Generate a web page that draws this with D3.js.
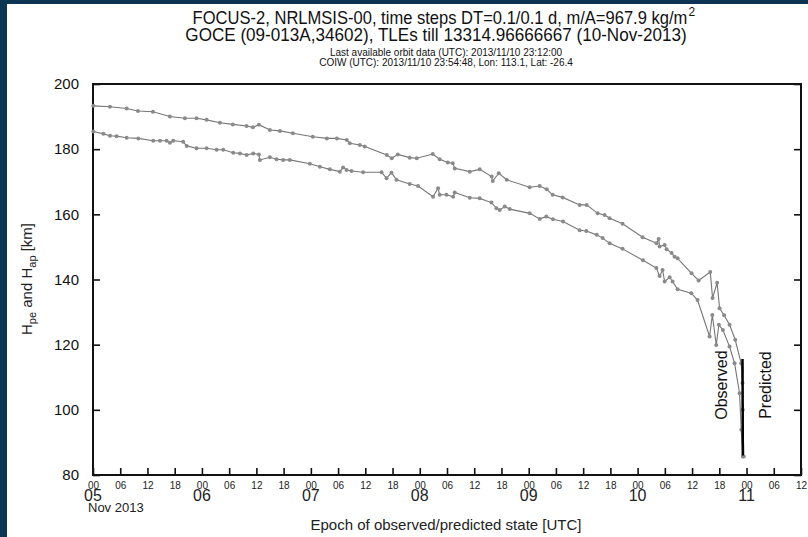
<!DOCTYPE html>
<html lang="en">
<head>
    <meta charset="UTF-8">
    <title>GOCE reentry - FOCUS-2</title>
    <script src="https://d3js.org/d3.v7.min.js"></script>
    <style>
        body {
            margin: 0;
            padding: 0;
            background-color: #ffffff;
        }
        svg {
            display: block;
            font-family: 'Liberation Sans', Arial, sans-serif;
        }
        .title {
            font-size: 18px;
            text-anchor: middle;
            fill: #111;
        }
        .subtitle {
            font-size: 10px;
            text-anchor: middle;
            fill: #111;
        }
        .axis path, .axis line {
            stroke: #111;
        }
        .axis line {
            stroke-width: 1.6;
        }
    </style>
</head>
<body>
    <svg width="808" height="537"></svg>

    <script>
        // days since 2013-11-05 00:00 UTC, altitude in km
        const apogee = [
            [0.003, 193.3], [0.156, 193.0], [0.309, 192.5], [0.413, 191.7], [0.55, 191.5],
            [0.706, 190.0], [0.844, 189.5], [0.951, 189.5], [1.043, 189.0], [1.165, 188.1],
            [1.284, 187.6], [1.41, 187.1], [1.468, 186.7], [1.523, 187.5], [1.624, 185.9],
            [1.716, 185.6], [1.835, 184.9], [2.018, 183.8], [2.147, 183.3], [2.239, 183.3],
            [2.33, 182.8], [2.358, 181.8], [2.45, 181.3], [2.495, 180.8], [2.697, 178.2],
            [2.743, 177.2], [2.798, 178.4], [2.908, 177.4], [2.972, 177.2], [3.119, 178.5],
            [3.183, 176.9], [3.257, 175.9], [3.303, 175.7], [3.321, 174.1], [3.459, 173.1],
            [3.55, 173.8], [3.66, 171.6], [3.67, 170.2], [3.725, 172.6], [3.798, 170.6],
            [4.009, 168.3], [4.101, 168.7], [4.165, 167.7], [4.22, 166.0], [4.312, 165.2],
            [4.468, 162.9], [4.532, 162.9], [4.633, 160.3], [4.697, 159.8], [4.743, 158.8],
            [4.862, 157.1], [5.046, 153.0], [5.174, 151.1], [5.193, 152.4], [5.202, 150.1],
            [5.248, 150.6], [5.266, 149.3], [5.312, 148.1], [5.339, 147.0], [5.367, 146.5],
            [5.495, 141.9], [5.56, 139.7], [5.667, 142.3], [5.688, 134.3], [5.73, 139.0],
            [5.752, 131.2], [5.794, 129.0], [5.844, 126.1], [5.896, 121.5], [5.951, 114.3],
            [5.963, 108.2], [5.966, 100.0], [5.975, 85.7]
        ];

        const perigee = [
            [0.003, 185.4], [0.095, 184.7], [0.156, 184.1], [0.217, 184.0], [0.309, 183.5],
            [0.416, 183.3], [0.553, 182.6], [0.615, 182.6], [0.676, 182.6], [0.706, 182.0],
            [0.737, 182.6], [0.828, 182.3], [0.86, 181.0], [0.951, 180.3], [1.043, 180.3],
            [1.135, 179.8], [1.195, 179.8], [1.287, 178.9], [1.349, 178.7], [1.41, 178.2],
            [1.471, 178.7], [1.523, 178.4], [1.532, 176.7], [1.624, 177.5], [1.685, 176.9],
            [1.746, 176.7], [1.807, 176.7], [1.991, 175.5], [2.083, 174.6], [2.174, 173.8],
            [2.266, 173.1], [2.296, 174.4], [2.328, 173.6], [2.373, 173.3], [2.48, 172.9],
            [2.649, 172.9], [2.695, 171.1], [2.74, 172.8], [2.786, 170.6], [2.908, 169.3],
            [2.984, 168.7], [3.122, 165.4], [3.168, 168.0], [3.183, 166.0], [3.245, 166.0],
            [3.306, 165.4], [3.321, 166.7], [3.459, 165.1], [3.55, 164.9], [3.658, 163.6],
            [3.704, 161.9], [3.734, 161.3], [3.78, 162.4], [3.826, 161.6], [4.009, 160.3],
            [4.101, 158.6], [4.162, 159.3], [4.223, 158.5], [4.315, 157.8], [4.468, 155.1],
            [4.529, 154.9], [4.624, 153.7], [4.679, 152.7], [4.743, 151.1], [4.862, 149.4],
            [5.049, 145.9], [5.172, 143.5], [5.202, 141.1], [5.229, 142.9], [5.248, 139.4],
            [5.294, 140.7], [5.321, 139.4], [5.367, 137.0], [5.493, 135.8], [5.55, 133.7],
            [5.661, 122.5], [5.686, 129.1], [5.722, 119.9], [5.746, 126.1], [5.783, 124.5],
            [5.844, 119.4], [5.89, 114.3], [5.936, 105.1], [5.951, 93.9], [5.966, 85.7]
        ];

        const predicted = [[5.963, 115.6], [5.966, 86.0]];

        const yTicks = [80, 100, 120, 140, 160, 180, 200];
        const dayLabels = ["05", "06", "07", "08", "09", "10", "11"];

        const titleLine1 = "FOCUS-2, NRLMSIS-00, time steps DT=0.1/0.1 d, m/A=967.9 kg/m";
        const titleLine2 = "GOCE (09-013A,34602), TLEs till 13314.96666667 (10-Nov-2013)";
        const subtitleLines = [
            "Last available orbit data (UTC): 2013/11/10 23:12:00",
            "COIW (UTC): 2013/11/10 23:54:48, Lon: 113.1, Lat: -26.4"
        ];

        const svg = d3.select("svg");
        const t0 = Date.UTC(2013, 10, 5);
        const toDate = d => new Date(t0 + d * 864e5);

        const x = d3.scaleUtc()
            .domain([toDate(0), toDate(6.5)])
            .range([93, 801]);

        const y = d3.scaleLinear()
            .domain([80, 200])
            .range([475, 84]);

        // dark frame strips
        svg.append("rect").attr("x", 0).attr("y", 0).attr("width", 808).attr("height", 4).attr("fill", "#0b3552");
        svg.append("rect").attr("x", 0).attr("y", 0).attr("width", 7).attr("height", 537).attr("fill", "#0b3552");

        // titles, squeezed a little to get the narrow look of the original font
        const t1 = svg.append("text").attr("class", "title")
            .attr("transform", "translate(440,24) scale(0.92,1)")
            .text(titleLine1);
        const t1w = t1.node().getComputedTextLength() * 0.92;
        svg.append("text")
            .attr("x", 440 + t1w / 2 + 1)
            .attr("y", 16)
            .style("font-size", "12px")
            .attr("fill", "#111")
            .text("2");

        svg.append("text")
            .attr("class", "title")
            .attr("transform", "translate(436,41) scale(0.95,1)")
            .text(titleLine2);

        svg.selectAll(".subtitle")
            .data(subtitleLines)
            .enter()
            .append("text")
            .attr("class", "subtitle")
            .attr("x", 446)
            .attr("y", (d, i) => 56 + i * 10)
            .text(d => d);

        // axes
        const xAxis = d3.axisBottom(x)
            .ticks(d3.utcHour.every(6))
            .tickSize(-7)
            .tickPadding(7)
            .tickFormat(d3.utcFormat("%H"));

        const gx = svg.append("g")
            .attr("class", "axis")
            .attr("transform", "translate(0,475)")
            .call(xAxis);
        gx.select(".domain").remove();
        gx.selectAll("text")
            .style("font-size", "10px")
            .attr("fill", "#222");

        const yAxis = d3.axisLeft(y)
            .tickValues(yTicks)
            .tickSize(-7)
            .tickPadding(14);

        const gy = svg.append("g")
            .attr("class", "axis")
            .attr("transform", "translate(93,0)")
            .call(yAxis);
        gy.select(".domain").remove();
        gy.selectAll("text")
            .style("font-size", "15px")
            .attr("fill", "#111");

        const gyr = svg.append("g")
            .attr("class", "axis")
            .attr("transform", "translate(801,0)")
            .call(d3.axisRight(y).tickValues(yTicks).tickSize(-7).tickFormat(""));
        gyr.select(".domain").remove();

        // plot frame
        svg.append("rect")
            .attr("x", x.range()[0])
            .attr("y", y.range()[1])
            .attr("width", x.range()[1] - x.range()[0])
            .attr("height", y.range()[0] - y.range()[1])
            .attr("fill", "none")
            .attr("stroke", "#111")
            .attr("stroke-width", 2);

        // day labels under midnight ticks
        svg.selectAll(".day-label")
            .data(dayLabels)
            .enter()
            .append("text")
            .attr("class", "day-label")
            .attr("x", (d, i) => x(toDate(i)))
            .attr("y", 501)
            .attr("text-anchor", "middle")
            .style("font-size", "16px")
            .attr("fill", "#222")
            .text(d => d);

        svg.append("text")
            .attr("x", 88)
            .attr("y", 512)
            .style("font-size", "13px")
            .attr("fill", "#222")
            .text("Nov 2013");

        svg.append("text")
            .attr("x", 446)
            .attr("y", 530)
            .attr("text-anchor", "middle")
            .style("font-size", "15px")
            .attr("fill", "#222")
            .text("Epoch of observed/predicted state [UTC]");

        // y label with subscripts
        const yl = svg.append("text")
            .attr("transform", "translate(32,279) rotate(-90)")
            .attr("text-anchor", "middle")
            .style("font-size", "15px")
            .attr("fill", "#222");
        yl.append("tspan").text("H");
        yl.append("tspan").attr("dy", 4).style("font-size", "11px").text("pe");
        yl.append("tspan").attr("dy", -4).text(" and H");
        yl.append("tspan").attr("dy", 4).style("font-size", "11px").text("ap");
        yl.append("tspan").attr("dy", -4).text(" [km]");

        // series
        const line = d3.line()
            .x(d => x(toDate(d[0])))
            .y(d => y(d[1]));

        [apogee, perigee].forEach(function(series) {
            svg.append("path")
                .datum(series)
                .attr("d", line)
                .attr("fill", "none")
                .attr("stroke", "#767676")
                .attr("stroke-width", 1.1);

            svg.append("g")
                .selectAll("circle")
                .data(series)
                .enter()
                .append("circle")
                .attr("cx", d => x(toDate(d[0])))
                .attr("cy", d => y(d[1]))
                .attr("r", 2)
                .attr("fill", "#8a8a8a");
        });

        svg.append("path")
            .datum(predicted)
            .attr("d", line)
            .attr("fill", "none")
            .attr("stroke", "#000")
            .attr("stroke-width", 2.5);

        // observed / predicted labels
        const xSplit = x(toDate(predicted[0][0]));
        svg.append("text")
            .attr("transform", "translate(" + (xSplit - 16) + "," + y(107.6) + ") rotate(-90)")
            .attr("text-anchor", "middle")
            .style("font-size", "16px")
            .attr("fill", "#111")
            .text("Observed");
        svg.append("text")
            .attr("transform", "translate(" + (xSplit + 28) + "," + y(107.6) + ") rotate(-90)")
            .attr("text-anchor", "middle")
            .style("font-size", "16px")
            .attr("fill", "#111")
            .text("Predicted");
    </script>
</body>
</html>
